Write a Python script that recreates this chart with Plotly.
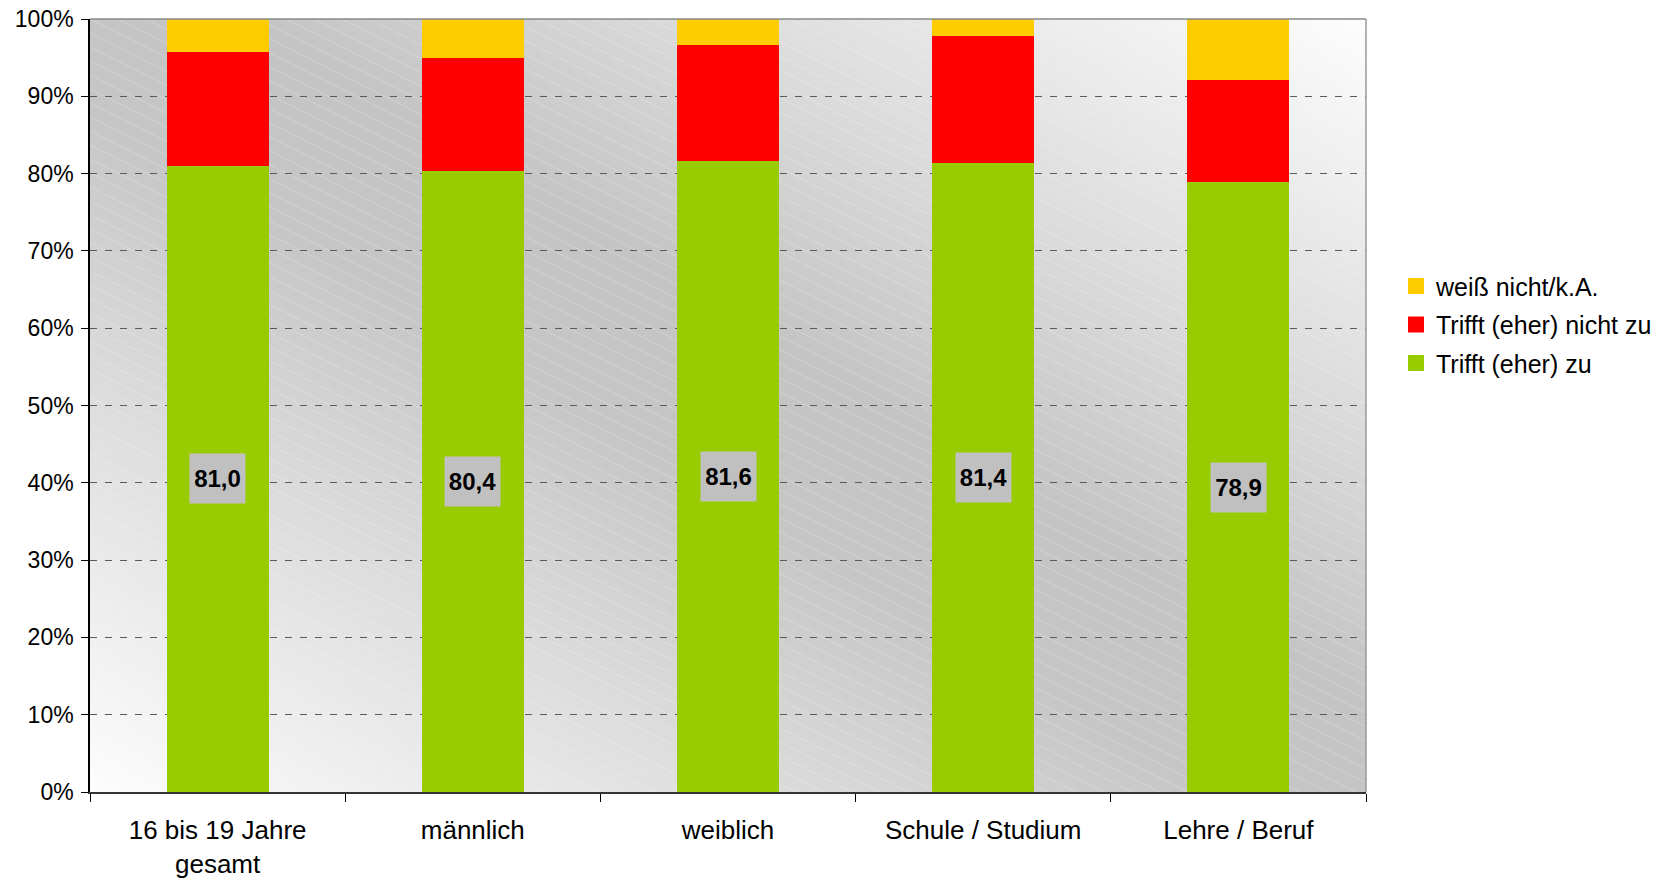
import base64
import plotly.graph_objects as go

# ---- data ----
categories = ["16 bis 19 Jahre<br>gesamt", "männlich", "weiblich", "Schule / Studium", "Lehre / Beruf"]
trifft_zu = [81.0, 80.4, 81.6, 81.4, 78.9]
trifft_nicht_zu = [14.7, 14.5, 15.0, 16.4, 13.2]
weiss_nicht = [4.3, 5.1, 3.4, 2.2, 7.9]
series_names = ["Trifft (eher) zu", "Trifft (eher) nicht zu", "weiß nicht/k.A."]
series_colors = ["#99CC00", "#FF0000", "#FFCC00"]
y_ticks = [0, 10, 20, 30, 40, 50, 60, 70, 80, 90, 100]
y_tick_labels = [f"{t}%" for t in y_ticks]

FONT = "Liberation Sans, Arial, sans-serif"

# ---- background (diagonal gradient + faint hatching) ----
W, H = 1276, 773
lines = []
for k in range(-60, 60):
    y0 = k * 14
    lines.append(f'<line x1="0" y1="{y0}" x2="{W}" y2="{y0 + W * 0.5}" stroke="white" stroke-opacity="0.22" stroke-width="1"/>')
svg = (
    f'<svg xmlns="http://www.w3.org/2000/svg" width="{W}" height="{H}" viewBox="0 0 {W} {H}" preserveAspectRatio="none">'
    '<defs><linearGradient id="g" x1="0" y1="1" x2="1" y2="0">'
    '<stop offset="0" stop-color="#fdfdfd"/>'
    '<stop offset="0.44" stop-color="#c6c6c6"/>'
    '<stop offset="0.56" stop-color="#c4c4c4"/>'
    '<stop offset="1" stop-color="#fdfdfd"/>'
    '</linearGradient></defs>'
    f'<rect x="0" y="0" width="{W}" height="{H}" fill="url(#g)"/>'
    + "".join(lines) +
    '</svg>'
)
bg_uri = "data:image/svg+xml;base64," + base64.b64encode(svg.encode()).decode()

fig = go.Figure()
series_values = [trifft_zu, trifft_nicht_zu, weiss_nicht]
for name, vals, col in zip(series_names, series_values, series_colors):
    fig.add_trace(go.Bar(x=categories, y=vals, name=name, marker=dict(color=col, line=dict(width=0)),
                         showlegend=False))

# legend entries (larger square symbols)
for i, (name, col) in enumerate(reversed(list(zip(series_names, series_colors)))):
    fig.add_trace(go.Scatter(x=[None], y=[None], mode="markers", name=name,
                             marker=dict(symbol="square", size=17, color=col),
                             legendgroup=f"g{i}", showlegend=True))

for c, v in zip(categories, trifft_zu):
    fig.add_annotation(x=c, y=v / 2, text=f"{v:.1f}".replace(".", ","), showarrow=False,
                       font=dict(family=FONT, size=24, color="black", weight="bold"),
                       bgcolor="#c0c0c0", width=47, height=41, borderpad=4)

fig.add_layout_image(dict(source=bg_uri, xref="paper", yref="paper", x=0, y=1, sizex=1, sizey=1,
                          sizing="stretch", xanchor="left", yanchor="top", layer="below"))

# top and right border
fig.add_shape(type="line", xref="paper", yref="paper", x0=0, y0=1, x1=1, y1=1,
              line=dict(color="#888888", width=1.5))
fig.add_shape(type="line", xref="paper", yref="paper", x0=1, y0=0, x1=1, y1=1,
              line=dict(color="#999999", width=1.5))

fig.update_layout(
    width=1657, height=872,
    margin=dict(l=82, r=299, t=11, b=88, autoexpand=False),
    barmode="stack", bargap=0.6,
    paper_bgcolor="white", plot_bgcolor="rgba(0,0,0,0)",
    font=dict(family=FONT, color="black"),
    legend=dict(x=1.0235, y=0.684, xanchor="left", yanchor="top", traceorder="grouped",
                tracegroupgap=3, font=dict(family=FONT, size=25, color="black"),
                bgcolor="rgba(0,0,0,0)"),
    xaxis=dict(type="category", tickson="boundaries", ticks="outside", ticklen=8, tickcolor="black",
               tickwidth=1, showline=True, linecolor="#333333", linewidth=1.5, showgrid=False,
               automargin=False,
               tickfont=dict(family=FONT, size=26, color="black"), ticklabelstandoff=14),
    yaxis=dict(range=[0, 100], tickmode="array", tickvals=y_ticks, ticktext=y_tick_labels,
               ticks="outside", ticklen=7, automargin=False, ticklabeloverflow="allow",
               tickcolor="black", showline=True, linecolor="black", linewidth=1.5,
               showgrid=True, gridcolor="#5a5a5a", gridwidth=1, griddash="7px,8px",
               zeroline=False, tickfont=dict(family=FONT, size=23, color="black"),
               ticklabelstandoff=3),
)

fig.write_html("out.html")
